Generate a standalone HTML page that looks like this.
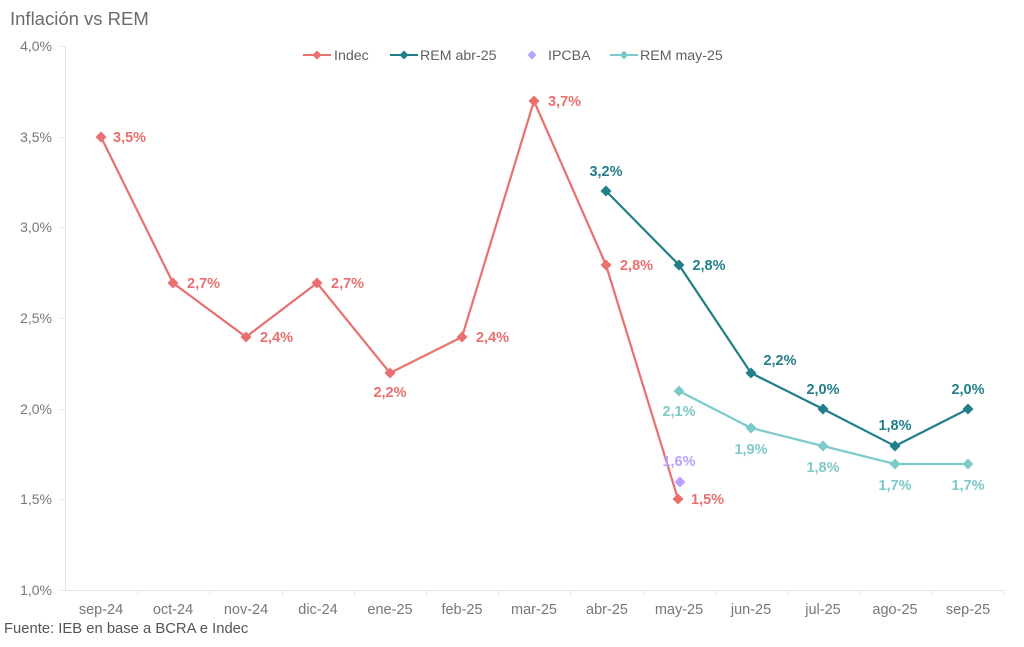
<!DOCTYPE html>
<html><head><meta charset="utf-8"><style>
html,body{margin:0;padding:0;background:#fff;}
svg{display:block;}
text{font-family:"Liberation Sans",sans-serif;}
</style></head><body>
<svg width="1024" height="647" viewBox="0 0 1024 647" xmlns="http://www.w3.org/2000/svg">
<rect width="1024" height="647" fill="#fff"/>
<text x="10" y="25" font-size="18.5" fill="#6b6b6b">Inflación vs REM</text>

<!-- axes -->
<g stroke="#dfe6e8" stroke-width="1" fill="none">
<line x1="65.5" y1="46" x2="65.5" y2="590"/>
<line x1="65" y1="590.5" x2="1004" y2="590.5"/>
<line x1="61" y1="46.5" x2="65" y2="46.5"/>
<line x1="61" y1="137.5" x2="65" y2="137.5"/>
<line x1="61" y1="227.5" x2="65" y2="227.5"/>
<line x1="61" y1="318.5" x2="65" y2="318.5"/>
<line x1="61" y1="409.5" x2="65" y2="409.5"/>
<line x1="61" y1="499.5" x2="65" y2="499.5"/>
<line x1="61" y1="590.5" x2="65" y2="590.5"/>
<line x1="137.5" y1="590" x2="137.5" y2="595"/>
<line x1="209.5" y1="590" x2="209.5" y2="595"/>
<line x1="282.5" y1="590" x2="282.5" y2="595"/>
<line x1="354.5" y1="590" x2="354.5" y2="595"/>
<line x1="426.5" y1="590" x2="426.5" y2="595"/>
<line x1="498.5" y1="590" x2="498.5" y2="595"/>
<line x1="570.5" y1="590" x2="570.5" y2="595"/>
<line x1="643.5" y1="590" x2="643.5" y2="595"/>
<line x1="715.5" y1="590" x2="715.5" y2="595"/>
<line x1="787.5" y1="590" x2="787.5" y2="595"/>
<line x1="859.5" y1="590" x2="859.5" y2="595"/>
<line x1="931.5" y1="590" x2="931.5" y2="595"/>
<line x1="1003.5" y1="590" x2="1003.5" y2="595"/>
</g>

<g font-size="14" fill="#777" text-anchor="end">
<text x="52" y="51">4,0%</text>
<text x="52" y="142">3,5%</text>
<text x="52" y="232">3,0%</text>
<text x="52" y="323">2,5%</text>
<text x="52" y="414">2,0%</text>
<text x="52" y="504">1,5%</text>
<text x="52" y="595">1,0%</text>
</g>

<g font-size="14.5" fill="#777" text-anchor="middle">
<text x="101" y="614">sep-24</text>
<text x="173" y="614">oct-24</text>
<text x="246" y="614">nov-24</text>
<text x="318" y="614">dic-24</text>
<text x="390" y="614">ene-25</text>
<text x="462" y="614">feb-25</text>
<text x="534" y="614">mar-25</text>
<text x="607" y="614">abr-25</text>
<text x="679" y="614">may-25</text>
<text x="751" y="614">jun-25</text>
<text x="823" y="614">jul-25</text>
<text x="895" y="614">ago-25</text>
<text x="968" y="614">sep-25</text>
</g>

<text x="4" y="633" font-size="14.8" fill="#555">Fuente: IEB en base a BCRA e Indec</text>

<defs>
<path id="dm" d="M0,-5.5 L5.5,0 L0,5.5 L-5.5,0 Z"/>
<path id="dms" d="M0,-4.5 L4.5,0 L0,4.5 L-4.5,0 Z"/>
</defs>

<!-- legend -->
<g font-size="14.2" fill="#5f5f5f">
<line x1="303" y1="55" x2="331" y2="55" stroke="#e8706e" stroke-width="2"/>
<use href="#dms" x="317" y="55" fill="#e8706e"/>
<text x="334" y="60">Indec</text>
<line x1="390" y1="55" x2="418" y2="55" stroke="#217f89" stroke-width="2"/>
<use href="#dms" x="404" y="55" fill="#217f89"/>
<text x="420" y="60">REM abr-25</text>
<use href="#dms" x="532" y="55" fill="#b9a0ff"/>
<text x="548" y="60">IPCBA</text>
<line x1="610" y1="55" x2="638" y2="55" stroke="#7ccaca" stroke-width="2"/>
<use href="#dms" x="624" y="55" fill="#7ccaca"/>
<text x="640" y="60">REM may-25</text>
</g>

<!-- Indec -->
<polyline fill="none" stroke="#e8706e" stroke-width="2.2" points="101,137 173,283 246,337 317,283 390,373 462,337 534,101 606,265 678,499"/>
<g fill="#e8706e">
<use href="#dm" x="101" y="137"/><use href="#dm" x="173" y="283"/><use href="#dm" x="246" y="337"/>
<use href="#dm" x="317" y="283"/><use href="#dm" x="390" y="373"/><use href="#dm" x="462" y="337"/>
<use href="#dm" x="534" y="101"/><use href="#dm" x="606" y="265"/><use href="#dm" x="678" y="499"/>
</g>
<g font-size="14.5" font-weight="bold" fill="#e8706e">
<text x="113" y="142">3,5%</text>
<text x="187" y="288">2,7%</text>
<text x="260" y="342">2,4%</text>
<text x="331" y="288">2,7%</text>
<text x="390" y="397" text-anchor="middle">2,2%</text>
<text x="476" y="342">2,4%</text>
<text x="548" y="106">3,7%</text>
<text x="620" y="270">2,8%</text>
<text x="691" y="504">1,5%</text>
</g>

<!-- REM abr-25 -->
<polyline fill="none" stroke="#217f89" stroke-width="2.2" points="606,191 679,265 751,373 823,409 895,446 968,409"/>
<g fill="#217f89">
<use href="#dm" x="606" y="191"/><use href="#dm" x="679" y="265"/><use href="#dm" x="751" y="373"/>
<use href="#dm" x="823" y="409"/><use href="#dm" x="895" y="446"/><use href="#dm" x="968" y="409"/>
</g>
<g font-size="14.5" font-weight="bold" fill="#217f89" text-anchor="middle">
<text x="606" y="176">3,2%</text>
<text x="709" y="270">2,8%</text>
<text x="780" y="365">2,2%</text>
<text x="823" y="394">2,0%</text>
<text x="895" y="430">1,8%</text>
<text x="968" y="394">2,0%</text>
</g>

<!-- REM may-25 -->
<polyline fill="none" stroke="#7ccaca" stroke-width="2.2" points="679,391 751,428 823,446 895,464 968,464"/>
<g fill="#7ccaca">
<use href="#dm" x="679" y="391"/><use href="#dm" x="751" y="428"/><use href="#dm" x="823" y="446"/>
<use href="#dm" x="895" y="464"/><use href="#dm" x="968" y="464"/>
</g>
<g font-size="14.5" font-weight="bold" fill="#7ccaca" text-anchor="middle">
<text x="679" y="416">2,1%</text>
<text x="751" y="454">1,9%</text>
<text x="823" y="472">1,8%</text>
<text x="895" y="490">1,7%</text>
<text x="968" y="490">1,7%</text>
</g>

<!-- IPCBA -->
<use href="#dm" x="680" y="482" fill="#b9a0ff"/>
<text x="679" y="466" font-size="14.5" font-weight="bold" fill="#b9a0ff" text-anchor="middle">1,6%</text>
</svg>
</body></html>
